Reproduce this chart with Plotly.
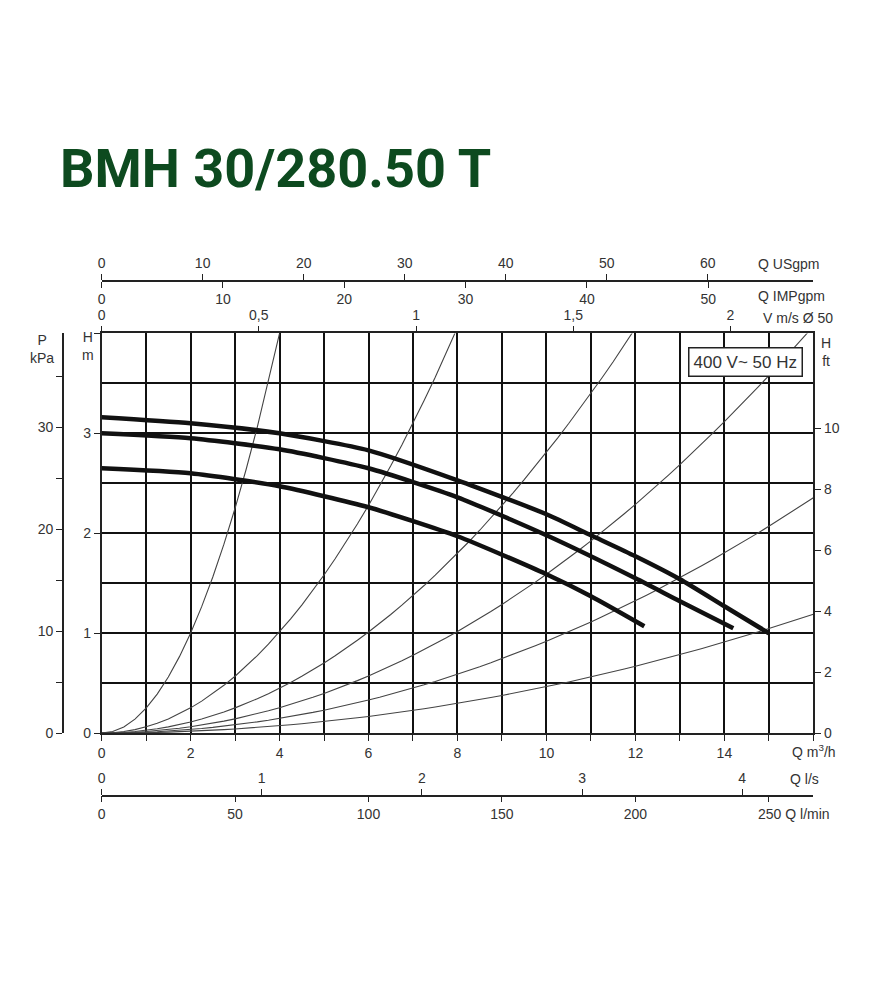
import plotly.graph_objects as go

# ---- data ----
q_top = [0, 2, 4, 6, 8, 10, 11, 12, 13, 14, 15]
h_top = [3.16, 3.10, 3.00, 2.83, 2.53, 2.19, 1.98, 1.77, 1.54, 1.27, 1.00]
q_mid = [0, 2, 4, 6, 8, 10, 12, 13, 14.2]
h_mid = [3.00, 2.95, 2.84, 2.65, 2.36, 1.98, 1.55, 1.32, 1.05]
q_bot = [0, 2, 4, 6, 8, 10, 11, 12.2]
h_bot = [2.65, 2.60, 2.47, 2.26, 1.97, 1.59, 1.37, 1.07]
system_k = [0.25, 0.0633, 0.0281, 0.0159, 0.0092, 0.00465]  # H = k*Q^2
q_grid = [i * 0.25 for i in range(0, 65)]

Q_MAX, H_MAX = 16, 4
TXT = "#333333"
DX = -10
X0, X1 = (100 + DX) / 885, (815 + DX) / 885
Y0, Y1 = 1 - 731 / 1000, 1 - 328 / 1000

fig = go.Figure()
for k in system_k:
    fig.add_trace(go.Scatter(x=q_grid, y=[k * q * q for q in q_grid], mode="lines",
                             line=dict(color="#444", width=1.1), hoverinfo="skip"))
for qs, hs in [(q_top, h_top), (q_mid, h_mid), (q_bot, h_bot)]:
    fig.add_trace(go.Scatter(x=qs, y=hs, mode="lines", line=dict(color="#111", width=4.5, shape="spline", smoothing=0.6)))

for xa in ["x2", "x3", "x4", "x5", "x6"]:
    fig.add_trace(go.Scatter(x=[0], y=[0], xaxis=xa, yaxis="y", mode="markers", marker=dict(opacity=0), hoverinfo="skip"))
for ya in ["y2", "y3"]:
    fig.add_trace(go.Scatter(x=[0], y=[0], xaxis="x", yaxis=ya, mode="markers", marker=dict(opacity=0), hoverinfo="skip"))

tf = dict(family="Liberation Sans, Arial", size=14, color=TXT)
common = dict(showline=True, linecolor="#222", linewidth=1.5, ticks="outside", ticklen=6,
              tickcolor="#222", tickfont=tf, showgrid=False, zeroline=False, fixedrange=True)
nogrid = {k: v for k, v in common.items() if k != "showgrid"}

fig.update_layout(
    width=885, height=1000, margin=dict(l=0, r=0, t=0, b=0),
    paper_bgcolor="white", plot_bgcolor="white", showlegend=False,
    xaxis=dict(domain=[X0, X1], range=[0, Q_MAX], anchor="y", tickvals=list(range(0, 17, 2)),
               ticktext=[str(v) for v in range(0, 15, 2)] + ["", ""],
               showgrid=True, gridcolor="#111", gridwidth=1.6,
               minor=dict(dtick=1, showgrid=True, gridcolor="#111", gridwidth=1.6, ticks="outside", ticklen=6, tickcolor="#222"),
               mirror=True, **nogrid),
    xaxis2=dict(overlaying="x", anchor="free", position=1 - 794 / 1000, side="top",
                range=[0, Q_MAX / 3.6], tickvals=[0, 1, 2, 3, 4], **common),
    xaxis3=dict(overlaying="x", anchor="free", position=1 - 794 / 1000, side="bottom",
                range=[0, Q_MAX * 1000 / 60], tickvals=[0, 50, 100, 150, 200, 250],
                ticktext=["0", "50", "100", "150", "200", ""], **common),
    xaxis4=dict(overlaying="x", anchor="free", position=1 - 275 / 1000, side="top",
                range=[0, Q_MAX * 4.4029], tickvals=[0, 10, 20, 30, 40, 50, 60], **common),
    xaxis5=dict(overlaying="x", anchor="free", position=1 - 275 / 1000, side="bottom",
                range=[0, Q_MAX * 3.6662], tickvals=[0, 10, 20, 30, 40, 50], **common),
    xaxis6=dict(overlaying="x", anchor="y", side="top", range=[0, Q_MAX / 7.0686],
                tickvals=[0, 0.5, 1, 1.5, 2], ticktext=["0", "0,5", "1", "1,5", "2"], **common),
    yaxis=dict(domain=[Y0, Y1], range=[0, H_MAX], anchor="x", tickvals=[0, 1, 2, 3, 4],
               ticktext=["0", "1", "2", "3", ""], showgrid=True, gridcolor="#111", gridwidth=1.6,
               minor=dict(dtick=0.5, showgrid=True, gridcolor="#111", gridwidth=1.6),
               mirror=True, **nogrid),
    yaxis2=dict(overlaying="y", anchor="free", position=(61 + DX) / 885, side="left",
                range=[0, H_MAX * 9.81], tickvals=[0, 5, 10, 15, 20, 25, 30, 35],
                ticktext=["0", "", "10", "", "20", "", "30", ""], **common),
    yaxis3=dict(overlaying="y", anchor="x", side="right", range=[0, H_MAX / 0.3048],
                tickvals=[0, 2, 4, 6, 8, 10], **common),
)

def ann(text, x, y, xanchor="left", size=14, color=TXT, family="Liberation Sans, Arial", **kw):
    fig.add_annotation(text=text, x=(x + DX) / 885, y=1 - y / 1000, xref="paper", yref="paper",
                       xanchor=xanchor, yanchor="middle", showarrow=False,
                       font=dict(family=family, size=size, color=color), **kw)

ann("<b>BMH 30/280.50 T</b>", 56, 162, size=54, color="#0d4a1f", family="Roboto, Liberation Sans")
ann("Q USgpm", 757, 258)
ann("Q IMPgpm", 757, 290)
ann("V m/s Ø 50", 762, 312)
ann("P<br>kPa", 40, 344, xanchor="center")
ann("H<br>m", 86, 341, xanchor="center")
ann("H<br>ft", 828, 347, xanchor="center")
ann("Q m<sup>3</sup>/h", 792, 749)
ann("Q l/s", 790, 777)
ann("250 Q l/min", 757, 813)
ann("400 V~ 50 Hz", 747, 357, xanchor="center", size=17, bordercolor="#222", borderwidth=1.5,
    borderpad=4, bgcolor="white")

fig.write_html("out.html")
